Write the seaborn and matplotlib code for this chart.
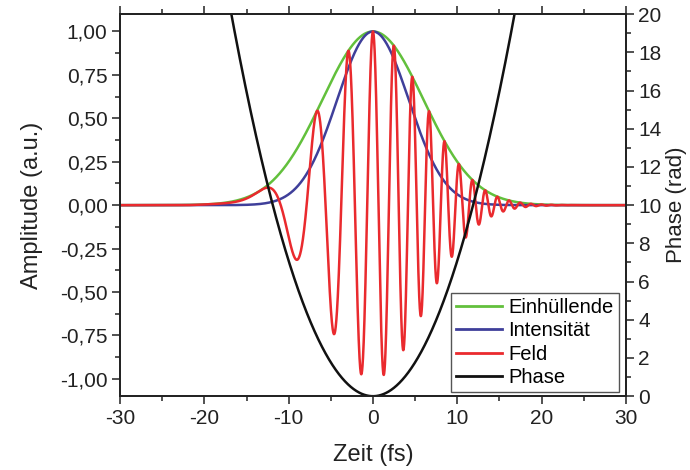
import numpy as np
import pandas as pd
import matplotlib
matplotlib.use("Agg")
import matplotlib.pyplot as plt
from matplotlib.ticker import MultipleLocator, FuncFormatter
from matplotlib.lines import Line2D
import seaborn as sns

# Pulse parameters
carrier_wavelength_nm = 800.0      # field peaks spaced ~2.4-2.9 fs around t=0
intensity_fwhm_fs = 10.0           # envelope = 0.5 at |t| ~ 7 fs, 0.25 at |t| ~ 10 fs
phase_at_edge_rad = 20.0           # phase reaches 20 rad ...
phase_edge_time_fs = 16.8          # ... at |t| ~ 16.8 fs
time_range_fs = [-30.0, 30.0]

series_names = ["Einhüllende", "Intensität", "Feld", "Phase"]
series_colors = ["#62c03c", "#3f3f9a", "#ea2a2e", "#111111"]

x_ticks = [-30, -20, -10, 0, 10, 20, 30]
left_ticks = [-1.0, -0.75, -0.5, -0.25, 0.0, 0.25, 0.5, 0.75, 1.0]
right_ticks = [0, 2, 4, 6, 8, 10, 12, 14, 16, 18, 20]

t = np.linspace(time_range_fs[0], time_range_fs[1], 6001)
omega0 = 2 * np.pi * 299.792458 / carrier_wavelength_nm  # rad/fs
chirp = phase_at_edge_rad / phase_edge_time_fs ** 2
envelope = np.exp(-2 * np.log(2) * t ** 2 / intensity_fwhm_fs ** 2)
intensity = envelope ** 2
phase = chirp * t ** 2
field = envelope * np.cos(omega0 * t + phase)

df = pd.DataFrame({"t": t, "env": envelope, "int": intensity, "field": field, "phase": phase})

plt.rcParams['font.family'] = ['Liberation Sans', 'DejaVu Sans']
plt.rcParams['axes.unicode_minus'] = False
fig = plt.figure(figsize=(6.9, 4.7), dpi=100)
ax = fig.add_axes([0.174, 0.157, 0.733, 0.813])
ax2 = ax.twinx()

lw = 1.8
sns.lineplot(data=df, x="t", y="env", ax=ax, color=series_colors[0], lw=lw, estimator=None, sort=False)
sns.lineplot(data=df, x="t", y="int", ax=ax, color=series_colors[1], lw=lw, estimator=None, sort=False)
sns.lineplot(data=df, x="t", y="field", ax=ax, color=series_colors[2], lw=lw, estimator=None, sort=False)
sns.lineplot(data=df, x="t", y="phase", ax=ax2, color=series_colors[3], lw=lw, estimator=None, sort=False)

ax.set_xlim(*time_range_fs)
ax.set_ylim(-1.1, 1.1)
ax2.set_ylim(0, 20)

ax.set_xticks(x_ticks)
ax.xaxis.set_minor_locator(MultipleLocator(5))
ax.set_yticks(left_ticks)
ax.yaxis.set_minor_locator(MultipleLocator(0.125))
ax.yaxis.set_major_formatter(FuncFormatter(lambda v, p: f"{v:.2f}".replace(".", ",")))
ax2.set_yticks(right_ticks)
ax2.yaxis.set_minor_locator(MultipleLocator(1))

for a in (ax, ax2):
    for s in a.spines.values():
        s.set_linewidth(1.3)
        s.set_color("#222222")
fs_tick = 15
ax.tick_params(axis="both", which="both", direction="out", labelsize=fs_tick, colors="#222222", width=1.1, pad=3)
ax.tick_params(axis="x", which="both", top=True, labeltop=False)
ax.tick_params(which="major", length=6)
ax.tick_params(which="minor", length=3.5)
ax2.tick_params(axis="y", which="both", direction="out", labelsize=fs_tick, colors="#222222", width=1.1, pad=3)
ax2.tick_params(which="major", length=6)
ax2.tick_params(which="minor", length=3.5)

ax.set_xlabel("Zeit (fs)", fontsize=17, labelpad=12, color="#222222")
ax.set_ylabel("Amplitude (a.u.)", fontsize=17, labelpad=12, color="#222222")
ax2.set_ylabel("Phase (rad)", fontsize=16, labelpad=3, color="#222222")

handles = [Line2D([0], [0], color=c, lw=2) for c in series_colors]
leg = ax2.legend(handles, series_names, loc="lower right", bbox_to_anchor=(0.986, 0.01),
                 fontsize=14.5, frameon=True, fancybox=False, edgecolor="#555555",
                 borderaxespad=0.0, handlelength=2.3, handletextpad=0.3,
                 borderpad=0.25, labelspacing=0.22, framealpha=1)
leg.get_frame().set_linewidth(1.0)

fig.savefig("out.png", dpi=100)
